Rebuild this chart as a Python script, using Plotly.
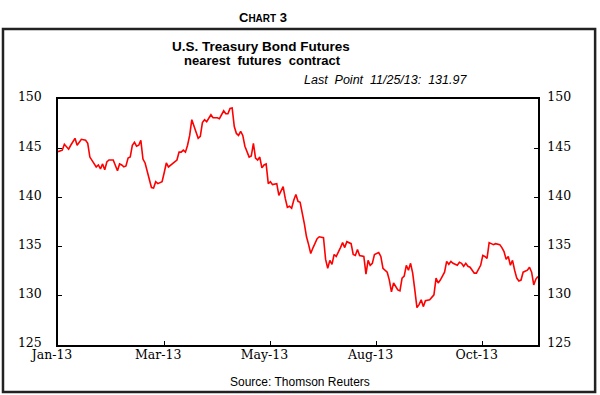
import plotly.graph_objects as go

# Trading-day index (0 = 2 Jan 2013) and nearest T-bond futures price
day_index = [0, 2, 3, 5, 6, 8, 9, 11, 13, 14, 15, 17, 18, 19, 20, 21, 22, 23, 24, 26,
             27, 28, 29, 30, 31, 32, 33, 34, 35, 36, 37, 38, 39, 40, 41, 42, 43, 44, 45, 46,
             47, 49, 50, 51, 52, 53, 54, 55, 56, 57, 58, 59, 60, 61, 62, 63, 64, 65, 66, 67,
             68, 69, 70, 72, 73, 75, 76, 78, 79, 80, 81, 82, 83, 84, 85, 86, 87, 88, 89, 90,
             91, 92, 93, 94, 95, 96, 97, 98, 99, 100, 101, 103, 104, 105, 106, 107, 108, 109, 110, 111,
             112, 113, 114, 116, 117, 118, 119, 120, 122, 123, 125, 126, 127, 128, 129, 130, 131, 133, 134, 135,
             136, 138, 139, 140, 141, 142, 144, 145, 146, 147, 148, 149, 151, 152, 153, 155, 156, 157, 158, 160,
             161, 162, 163, 164, 165, 166, 167, 168, 169, 170, 171, 172, 173, 175, 176, 177, 178, 179, 180, 182,
             183, 184, 185, 186, 188, 189, 190, 191, 192, 193, 194, 195, 196, 197, 199, 200, 201, 202, 203, 204,
             205, 206, 208, 209, 210, 211, 212, 213, 214, 215, 216, 217, 218, 219, 221, 222, 223, 224, 225, 226]
price = [144.65, 144.8, 145.4, 144.9, 145.3, 146.0, 145.3, 145.9, 145.8, 145.5, 144.1, 143.5, 143.1, 143.3, 142.9, 143.4, 142.8, 143.6, 143.8, 143.8,
         143.3, 142.7, 143.4, 143.3, 143.1, 143.2, 144.0, 144.1, 145.3, 145.6, 145.2, 145.3, 145.8, 143.9, 143.5, 142.6, 141.6, 141.0, 140.95, 141.6,
         141.4, 141.6, 142.5, 143.5, 143.1, 143.3, 143.5, 143.6, 143.8, 144.6, 144.6, 144.8, 144.6, 145.3, 146.3, 147.9, 147.3, 146.8, 146.0, 146.2,
         147.6, 147.9, 147.7, 148.4, 148.1, 148.1, 148.0, 148.8, 148.5, 148.5, 149.05, 149.1, 147.2, 146.5, 146.3, 146.7, 146.3, 145.2, 144.6, 144.1,
         144.2, 145.5, 144.0, 143.8, 144.1, 143.0, 143.3, 143.4, 141.4, 141.6, 141.3, 141.4, 140.2, 140.6, 141.1, 139.9, 139.0, 139.1, 138.9, 139.7,
         140.3, 139.6, 139.5, 137.3, 136.0, 135.2, 134.3, 134.85, 135.8, 136.0, 135.9, 133.7, 132.8, 133.6, 133.2, 134.2, 134.0, 134.9, 135.4, 134.9,
         135.5, 135.3, 134.2, 134.1, 134.7, 134.1, 134.0, 132.2, 133.6, 133.1, 133.3, 134.2, 134.4, 134.0, 132.8, 132.4, 131.6, 130.4, 131.3, 130.6,
         130.5, 131.8, 132.0, 133.1, 132.6, 133.3, 132.3, 130.6, 128.8, 129.1, 129.6, 128.9, 129.5, 129.6, 129.8, 130.1, 131.8, 131.3, 131.6, 132.4,
         133.5, 133.2, 133.5, 133.3, 133.1, 133.4, 133.3, 133.0, 133.3, 133.0, 132.9, 132.6, 132.3, 132.3, 133.1, 134.1, 134.0, 133.8, 135.4, 135.3,
         135.2, 135.3, 135.2, 134.9, 134.5, 133.7, 134.0, 133.1, 133.6, 132.6, 131.8, 131.5, 131.6, 132.4, 132.6, 132.9, 132.4, 131.1, 131.7, 131.97]

tick_index = [0, 50, 100, 150, 200]
tick_labels = ["Jan-13", "Mar-13", "May-13", "Aug-13", "Oct-13"]
y_ticks = [125, 130, 135, 140, 145, 150]

SERIF = "DejaVu Serif"
SANS = "Liberation Sans, Arial, sans-serif"

fig = go.Figure()
fig.add_trace(go.Scatter(x=day_index, y=price, mode="lines",
                         line=dict(color="#ff0000", width=1.6), hoverinfo="skip",
                         showlegend=False))
fig.add_trace(go.Scatter(x=day_index, y=price, mode="lines", yaxis="y2",
                         line=dict(color="rgba(0,0,0,0)", width=0), hoverinfo="skip",
                         showlegend=False))

axis_common = dict(showgrid=False, zeroline=False, ticks="inside", ticklen=4,
                   tickwidth=1, tickcolor="black", linecolor="black", linewidth=1.5,
                   showline=True, tickfont=dict(family=SERIF, size=12.5, color="black"))

fig.update_layout(
    width=600, height=395,
    margin=dict(l=58, r=62, t=99, b=50),
    paper_bgcolor="white", plot_bgcolor="white",
    xaxis=dict(range=[0, 226], tickvals=tick_index, ticktext=tick_labels,
               mirror=True, ticklabelshift=-6, ticklabelstandoff=-3, **axis_common),
    yaxis=dict(range=[125, 150], tickvals=y_ticks, side="left",
               ticklabelshift=-2, ticklabelstandoff=12, **axis_common),
    yaxis2=dict(range=[125, 150], tickvals=y_ticks, side="right", overlaying="y",
                anchor="x", ticklabelshift=-2, ticklabelstandoff=5, **axis_common),
)

annotations = [
    dict(text="<b>C<span style='font-size:10px'>HART</span> 3</b>", x=0.427, y=1.333,
         font=dict(family=SANS, size=13, color="black")),
    dict(text="<b>U.S. Treasury Bond Futures</b>", x=0.423, y=1.212,
         font=dict(family=SANS, size=13.5, color="black")),
    dict(text="<b>nearest  futures  contract</b>", x=0.425, y=1.157,
         font=dict(family=SANS, size=13, color="black")),
    dict(text="<i>Last  Point  11/25/13:  131.97</i>", x=0.856, y=1.077, xanchor="right",
         font=dict(family=SANS, size=12.5, color="black")),
    dict(text="Source: Thomson Reuters", x=0.504, y=-0.150,
         font=dict(family=SANS, size=12, color="black")),
]
for a in annotations:
    a.setdefault("xanchor", "center")
    fig.add_annotation(xref="paper", yref="paper", yanchor="middle", showarrow=False, **a)

fig.add_shape(type="rect", xref="paper", yref="paper",
              x0=-0.1146, x1=1.119, y0=-0.191, y1=1.285,
              line=dict(color="#222222", width=2.5), fillcolor="rgba(0,0,0,0)", layer="below")

# remove the browser's default 8px body margin so the figure fills the window exactly
fig.write_html("out.html", config={"displayModeBar": False},
               post_script="document.body.style.margin='0';document.body.style.overflow='hidden';")
